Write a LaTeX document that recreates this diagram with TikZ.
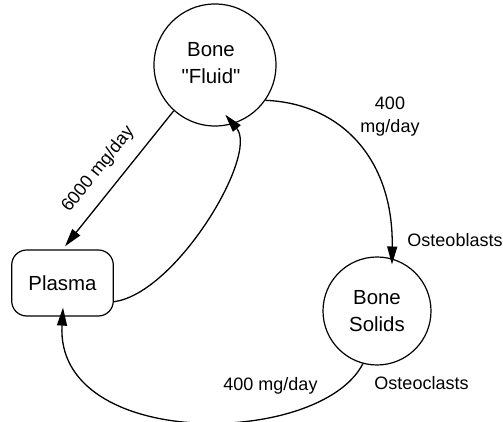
\documentclass[tikz,border=0pt]{standalone}
\usepackage{fontspec}
\setmainfont{Liberation Sans}
\newfontfamily\rawsans{Liberation Sans}
\usetikzlibrary{arrows.meta,calc}
\begin{document}
\begin{tikzpicture}[x=1pt,y=1pt,
  txt/.style={font=\fontsize{18}{23.4}\selectfont, align=center, inner sep=0pt},
  bigtxt/.style={font=\rawsans\fontsize{20.4}{27.3}\selectfont, align=center, inner sep=0pt},
  circ/.style={draw, circle, line width=1.2pt, inner sep=0pt},
  box/.style={draw, rectangle, rounded corners=15pt, line width=1.2pt, inner sep=0pt,
    minimum width=101.6pt, minimum height=66pt, text height=15pt, text depth=0pt},
  flow/.style={line width=1.3pt, -{Triangle[length=18pt,width=10pt]}}]
\useasboundingbox (0,0) rectangle (503,422);

\node[circ, minimum size=122pt] (bf) at (215,357) {};
\node[bigtxt] (bft) at (211,358.8) {Bone\\"Fluid"};
\node[circ, minimum size=108pt, bigtxt] (bs) at (377,111) {Bone\\Solids};
\node[box, font=\fontsize{20.4}{27}\selectfont] (pl) at (62.5,139) {Plasma};

% Bone Fluid -> Plasma
\draw[flow, shorten >=4pt] (bf.228) -- (pl.north)
  node[txt, sloped, pos=0.523, above=13pt] (l6000) {6000 mg/day};

% Plasma -> Bone Fluid
\draw[flow, shorten >=-12pt] (pl.-20) .. controls +(62,8) and +(26,-31) .. (bf.-73);

% Bone Fluid -> Bone Solids
\draw[flow, shorten >=-6pt] (bf.-35) .. controls +(75,-3) and +(1.5,100) .. (bs.74);

% Bone Solids -> Plasma
\draw[flow, shorten >=-9pt] (bs.-105) .. controls +(-43,-83.8) and +(-7.5,-134) .. (pl.south);

\node[txt] (l400a) at (390,305.5) {400\\mg/day};
\node[txt, anchor=base] (lob) at (455,175.3) {Osteoblasts};
\node[txt, anchor=base] (loc) at (421.5,32) {Osteoclasts};
\node[txt, anchor=base] (l400b) at (270.5,31.3) {400 mg/day};
\end{tikzpicture}
\end{document}
